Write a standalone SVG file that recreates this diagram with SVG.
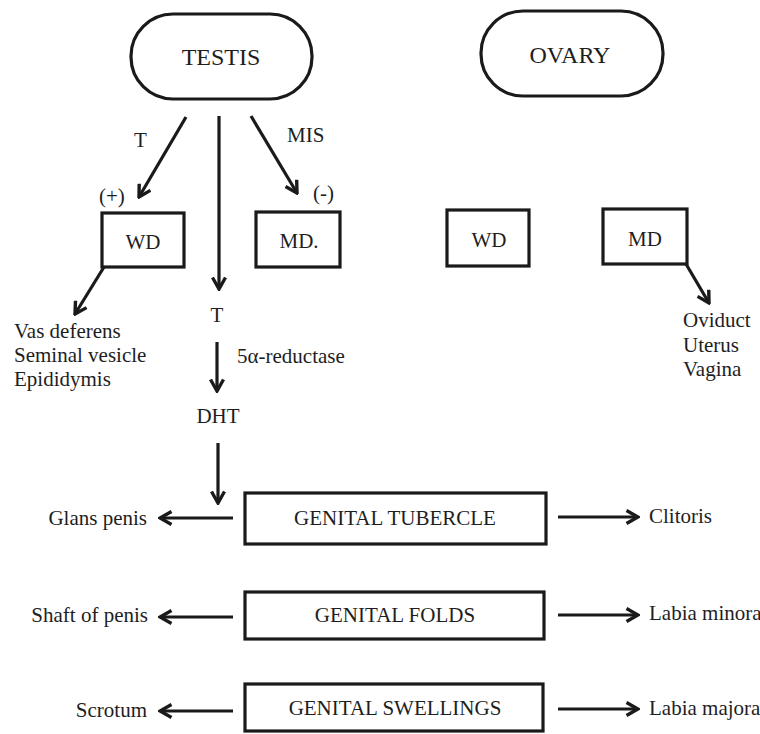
<svg xmlns="http://www.w3.org/2000/svg" width="760" height="734" viewBox="0 0 760 734">
<style>
text{font-family:"Liberation Serif","Times New Roman",serif;fill:#1e1e1e}
.big{font-size:24px}
.lbl{font-size:21px}
.box{font-size:21px}
.shape{fill:none;stroke:#1a1a1a;stroke-width:3.2}
.arr{fill:none;stroke:#1a1a1a;stroke-width:3.2;marker-end:url(#ah)}
.mid{text-anchor:middle}
.end{text-anchor:end}
</style>
<defs>
<marker id="ah" viewBox="0 0 16 16" refX="14" refY="8" markerWidth="16" markerHeight="16" markerUnits="userSpaceOnUse" orient="auto">
<path d="M2.5,1.5 L14,8 L2.5,14.5" fill="none" stroke="#1a1a1a" stroke-width="3.4" stroke-linejoin="miter"/>
</marker>
</defs>
<rect width="760" height="734" fill="#ffffff"/>
<g id="testis"><rect class="shape" x="131" y="14" width="181" height="85" rx="42" ry="42"/><text class="big mid" x="221" y="65">TESTIS</text></g>
<g id="ovary"><rect class="shape" x="481" y="11" width="182" height="85" rx="42" ry="42"/><text class="big mid" x="570" y="63">OVARY</text></g>
<g id="wd-male"><rect class="shape" x="102" y="213" width="82" height="54"/><text class="lbl mid" x="143" y="249">WD</text></g>
<g id="md-male"><rect class="shape" x="256" y="212" width="84" height="55"/><text class="lbl mid" x="299" y="248">MD.</text></g>
<g id="wd-female"><rect class="shape" x="447" y="210" width="82" height="56"/><text class="lbl mid" x="489" y="247">WD</text></g>
<g id="md-female"><rect class="shape" x="603" y="209" width="84" height="55"/><text class="lbl mid" x="645" y="246">MD</text></g>
<g id="male-ducts"><text class="lbl" x="14" y="338">Vas deferens</text><text class="lbl" x="14" y="362">Seminal vesicle</text><text class="lbl" x="14" y="386">Epididymis</text></g>
<g id="female-ducts"><text class="lbl" x="683" y="327">Oviduct</text><text class="lbl" x="683" y="352">Uterus</text><text class="lbl" x="683" y="376">Vagina</text></g>
<g id="t-label"><text class="lbl mid" x="217" y="322">T</text></g>
<g id="dht"><text class="lbl mid" x="218" y="423">DHT</text></g>
<g id="tubercle"><rect class="shape" x="245" y="493" width="301" height="51"/><text class="box mid" x="395" y="525">GENITAL TUBERCLE</text></g>
<g id="folds"><rect class="shape" x="245" y="592" width="299" height="47"/><text class="box mid" x="395" y="622">GENITAL FOLDS</text></g>
<g id="swellings"><rect class="shape" x="245" y="684" width="298" height="47"/><text class="box mid" x="395" y="715">GENITAL SWELLINGS</text></g>
<g id="glans"><text class="lbl end" x="147" y="525">Glans penis</text></g>
<g id="shaft"><text class="lbl end" x="148" y="622">Shaft of penis</text></g>
<g id="scrotum"><text class="lbl end" x="147" y="717">Scrotum</text></g>
<g id="clitoris"><text class="lbl" x="649" y="523">Clitoris</text></g>
<g id="labia-minora"><text class="lbl" x="649" y="620">Labia minora</text></g>
<g id="labia-majora"><text class="lbl" x="649" y="715">Labia majora</text></g>
<g id="connectors">
<path class="arr" d="M186,117 L139,197"/>
<text class="lbl" x="134" y="147">T</text>
<text class="lbl" x="99" y="203">(+)</text>
<path class="arr" d="M219,116 L219,289"/>
<path class="arr" d="M251,116 L297,193"/>
<text class="lbl" x="287" y="142">MIS</text>
<text class="lbl" x="313" y="200">(-)</text>
<path class="arr" d="M104,267 L75,314"/>
<path class="arr" d="M686,264 L709,303"/>
<path class="arr" d="M217,342 L217,391"/>
<text class="lbl" x="237" y="363">5α-reductase</text>
<path class="arr" d="M218,443 L218,503"/>
<path class="arr" d="M233,518 L160,518"/>
<path class="arr" d="M233,617 L160,617"/>
<path class="arr" d="M233,711 L160,711"/>
<path class="arr" d="M558,517 L638,517"/>
<path class="arr" d="M558,615 L638,615"/>
<path class="arr" d="M558,709 L638,709"/>
</g>
</svg>
